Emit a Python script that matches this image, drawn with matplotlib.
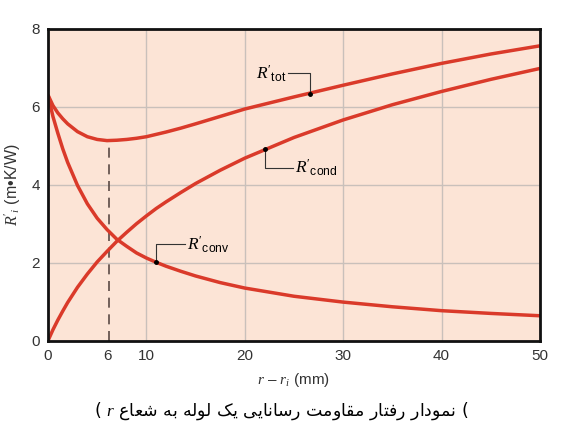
import matplotlib
matplotlib.use("Agg")
import matplotlib.pyplot as plt

plt.rcParams['font.family'] = ['Liberation Sans', 'DejaVu Sans']
plt.rcParams['mathtext.fontset'] = 'custom'
plt.rcParams['mathtext.rm'] = 'Liberation Serif'
plt.rcParams['mathtext.it'] = 'Liberation Serif:italic'
plt.rcParams['mathtext.sf'] = 'Liberation Sans'

# values (r - ri in mm, R' in m.K/W)
x_mm = [0, 0.5, 1, 1.5, 2, 3, 4, 5, 6, 7, 8, 9, 10, 11, 12, 13.5, 15, 17.5,
        20, 25, 30, 35, 40, 45, 50]
r_cond = [0, 0.28, 0.53, 0.76, 0.98, 1.37, 1.71, 2.02, 2.29, 2.55, 2.78, 3.00,
          3.20, 3.39, 3.56, 3.80, 4.03, 4.37, 4.68, 5.21, 5.66, 6.05, 6.39,
          6.70, 6.98]
r_conv = [6.3, 5.75, 5.32, 4.92, 4.57, 3.98, 3.51, 3.14, 2.85, 2.60, 2.42, 2.25,
          2.12, 2.01, 1.91, 1.78, 1.66, 1.49, 1.35, 1.14, 0.99, 0.87, 0.77,
          0.70, 0.64]
r_tot = [6.3, 6.03, 5.84, 5.69, 5.56, 5.36, 5.23, 5.16, 5.13, 5.14, 5.16, 5.19,
         5.23, 5.29, 5.35, 5.45, 5.56, 5.75, 5.94, 6.25, 6.55, 6.84, 7.11,
         7.35, 7.56]

x_min_tot = 6.2
tot_min = 5.13

xticks = [0, 6, 10, 20, 30, 40, 50]
yticks = [0, 2, 4, 6, 8]

caption_words = ["نمودار", "رفتار", "مقاومت", "رسانایی", "یک", "لوله", "به", "شعاع"]

# arabic presentation forms: isolated, final, initial, medial
FORMS = {
    'ا': ('\ufe8d', '\ufe8e', None, None),
    'د': ('\ufea9', '\ufeaa', None, None),
    'ر': ('\ufead', '\ufeae', None, None),
    'و': ('\ufeed', '\ufeee', None, None),
    'ب': ('\ufe8f', '\ufe90', '\ufe91', '\ufe92'),
    'ت': ('\ufe95', '\ufe96', '\ufe97', '\ufe98'),
    'س': ('\ufeb1', '\ufeb2', '\ufeb3', '\ufeb4'),
    'ش': ('\ufeb5', '\ufeb6', '\ufeb7', '\ufeb8'),
    'ع': ('\ufec9', '\ufeca', '\ufecb', '\ufecc'),
    'ف': ('\ufed1', '\ufed2', '\ufed3', '\ufed4'),
    'ق': ('\ufed5', '\ufed6', '\ufed7', '\ufed8'),
    'ل': ('\ufedd', '\ufede', '\ufedf', '\ufee0'),
    'م': ('\ufee1', '\ufee2', '\ufee3', '\ufee4'),
    'ن': ('\ufee5', '\ufee6', '\ufee7', '\ufee8'),
    'ه': ('\ufee9', '\ufeea', '\ufeeb', '\ufeec'),
    'ی': ('\ufbfc', '\ufbfd', '\ufbfe', '\ufbff'),
    'ک': ('\ufb8e', '\ufb8f', '\ufb90', '\ufb91'),
}


def shape_word(word):
    out = []
    for i, ch in enumerate(word):
        prev_joins = i > 0 and FORMS[word[i - 1]][2] is not None
        next_joins = i < len(word) - 1 and FORMS[ch][2] is not None
        iso, fin, ini, med = FORMS[ch]
        if prev_joins and next_joins:
            out.append(med)
        elif prev_joins:
            out.append(fin)
        elif next_joins:
            out.append(ini)
        else:
            out.append(iso)
    return "".join(out)[::-1]


fig = plt.figure(figsize=(5.62, 4.41), dpi=100)
ax = fig.add_axes([0.0854, 0.2274, 0.8754, 0.7076])
ax.set_facecolor('#fce4d6')

for gx in [10, 20, 30, 40]:
    ax.axvline(gx, color='#c9c0bb', lw=1.0, zorder=1)
for gy in [2, 4, 6]:
    ax.axhline(gy, color='#c9c0bb', lw=1.0, zorder=1)

red = '#da3a2a'
ax.plot(x_mm, r_tot, color=red, lw=2.5, zorder=3, solid_capstyle='butt')
ax.plot(x_mm, r_cond, color=red, lw=2.5, zorder=3, solid_capstyle='butt')
ax.plot(x_mm, r_conv, color=red, lw=2.5, zorder=3, solid_capstyle='butt')

ax.plot([x_min_tot, x_min_tot], [0, tot_min], color='#5a4a45', lw=1.2,
        dashes=(6, 4), zorder=2)

# labels with leader lines
lc = '#333333'
ax.plot([24.4, 26.6, 26.6], [6.87, 6.87, 6.33], color=lc, lw=0.8, zorder=4)
ax.plot([26.6], [6.33], 'o', color='black', ms=2.5, zorder=5)
ax.text(24.2, 6.85, r"$R'_{\mathsf{tot}}$", fontsize=12.5, ha='right', va='center')

ax.plot([22.05, 22.05, 24.9], [4.91, 4.44, 4.44], color=lc, lw=0.8, zorder=4)
ax.plot([22.05], [4.91], 'o', color='black', ms=2.5, zorder=5)
ax.text(25.1, 4.42, r"$R'_{\mathsf{cond}}$", fontsize=12.5, ha='left', va='center')

ax.plot([10.95, 10.95, 13.9], [2.01, 2.48, 2.48], color=lc, lw=0.8, zorder=4)
ax.plot([10.95], [2.01], 'o', color='black', ms=2.5, zorder=5)
ax.text(14.1, 2.46, r"$R'_{\mathsf{conv}}$", fontsize=12.5, ha='left', va='center')

ax.set_xlim(0, 50)
ax.set_ylim(0, 8)
ax.set_xticks(xticks)
ax.set_yticks(yticks)
ax.tick_params(length=0, labelsize=11, colors='#333333', pad=6)
for s in ax.spines.values():
    s.set_linewidth(2.0)
    s.set_color('#111111')
    s.set_zorder(6)

ax.set_xlabel(r"$r$ – $r_i$ (mm)", fontsize=11, color='#333333', labelpad=6)
ax.set_ylabel(r"$R'_i$ (m•K/W)", fontsize=11.5, color='#333333', labelpad=6)

arabic = " ".join(shape_word(w) for w in reversed(caption_words))
fig.text(0.50, 0.068, "( $\\mathit{r}$ " + arabic + " (", fontsize=12.5,
         family='DejaVu Sans', ha='center', va='center', color='black')

fig.savefig("out.png", dpi=100, facecolor='white')
